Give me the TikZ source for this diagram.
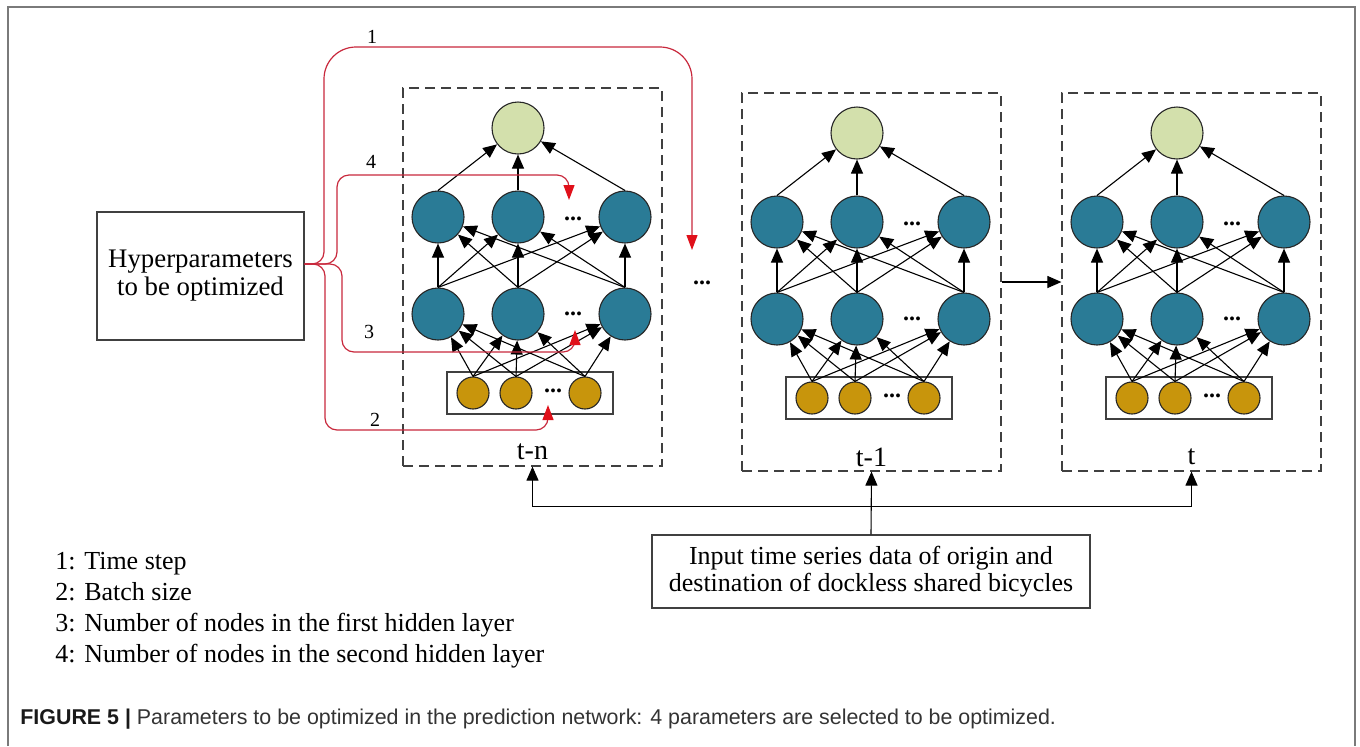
\documentclass[tikz,border=0pt]{standalone}
\usepackage{fontspec}
\setmainfont{Liberation Serif}
\newfontfamily\capfont{Liberation Sans}
\usetikzlibrary{arrows.meta,positioning,calc}
\definecolor{neuronblue}{HTML}{2A7B96}
\definecolor{outgreen}{HTML}{D3E0AC}
\definecolor{ingold}{HTML}{C8950C}
\definecolor{paramred}{HTML}{C8283C}
\definecolor{tipred}{HTML}{E0101A}
\definecolor{framegray}{HTML}{7A7A7A}

\tikzset{
  neuron/.style={circle,draw=black!85,fill=neuronblue,minimum size=26pt,inner sep=0pt,line width=0.55pt},
  outneuron/.style={neuron,fill=outgreen},
  inneuron/.style={neuron,fill=ingold,minimum size=16pt},
  stepframe/.style={draw=black!75,dash pattern=on 5pt off 3pt,minimum width=129.5pt,minimum height=189pt,inner sep=0pt,line width=0.6pt},
  plainbox/.style={draw=black!75,line width=0.6pt,align=center,inner sep=0pt},
  arr/.style={-{Triangle[length=7pt,width=6pt]},line width=0.55pt,black},
  redarr/.style={-{Triangle[length=7.5pt,width=5.5pt,color=tipred]},draw=paramred,line width=0.6pt},
  dotsl/.style={font=\fontsize{12}{12}\selectfont\bfseries,inner sep=1pt},
  numlabel/.style={font=\fontsize{10}{12}\selectfont,inner sep=0pt},
}

\begin{document}
\begin{tikzpicture}[x=0.5pt,y=-0.5pt]
\useasboundingbox (0,0) rectangle (1360,746);
% figure frame, open at the bottom
\draw[framegray,line width=1pt] (8,746) -- (8,7) -- (1355,7) -- (1355,746);

% the three time steps
\foreach \bx/\by/\nm/\lab in {403/88/a/t-n, 742/93/b/t-1, 1062/93/c/t}{
  \node[stepframe] (box-\nm) at (\bx+129.5,\by+189) {};
  \node[font=\fontsize{14}{14}\selectfont] (lab-\nm) at (\bx+129.5,\by+364) {\lab};
  \node[outneuron] (out-\nm) at (\bx+115,\by+40) {};
  \foreach \i/\dx in {1/35,2/115,3/222}{
    \node[neuron] (hb-\nm\i) at (\bx+\dx,\by+129) {};
    \node[neuron] (ha-\nm\i) at (\bx+\dx,\by+226) {};
  }
  \node[plainbox,minimum width=83pt,minimum height=21pt] (inbox-\nm) at (\bx+127,\by+305) {};
  \foreach \i/\dx in {1/70,2/113,3/182}
    \node[inneuron] (in-\nm\i) at (\bx+\dx,\by+305) {};
  \node[dotsl] (dhb-\nm) at (\bx+170,\by+131) {...};
  \node[dotsl] (dha-\nm) at (\bx+170,\by+226) {...};
  \node[dotsl] (din-\nm) at (\bx+150,\by+303) {...};
  % connections
  \foreach \i in {1,2,3}{
    \draw[arr] (hb-\nm\i.north) -- (out-\nm);
    \foreach \j in {1,2,3}{
      \draw[arr] (ha-\nm\i.north) -- (hb-\nm\j);
      \draw[arr] (in-\nm\i.north) -- (ha-\nm\j);
    }
  }
}
\node[dotsl] (dmid) at (702,283) {...};

% input data
\node[plainbox,minimum width=219pt,minimum height=36.5pt,font=\fontsize{13}{13.5}\selectfont] (inp) at (871,571.5)
  {Input time series data of origin and\\destination of dockless shared bicycles};
\coordinate (split) at ($(inp.north)+(0,-28)$);
\draw[arr] (inp.north) -- (box-b.south);
\draw[arr] (split) -| (box-a.south);
\draw[arr] (split) -| (box-c.south);
\draw[arr] (box-b.east) -- (box-c.west);

% hyperparameters
\node[plainbox,minimum width=103.5pt,minimum height=64pt,font=\fontsize{13.4}{14}\selectfont] (hyp) at (200.5,276)
  {Hyperparameters\\to be optimized};
\coordinate (hub) at ($(hyp.east)+(0,-12)$);
\draw[redarr] (hub) [rounded corners=6pt] -| (324,150) [rounded corners=16pt] -- (324,47) -| ([shift={(-10,-33)}]dmid.center);
\draw[redarr,rounded corners=6pt] (hub) -| (337,175) -| ([shift={(-4,-19)}]dhb-a.center);
\draw[redarr,rounded corners=6pt] (hub) -| (342,352) -| ([shift={(2,16)}]dha-a.center);
\draw[redarr,rounded corners=6pt] (hub) -| (325,430) -| ([shift={(-5,14)}]din-a.center);
\node[numlabel] (num1) at (372,37) {1};
\node[numlabel] (num4) at (371,162) {4};
\node[numlabel] (num3) at (369,332) {3};
\node[numlabel] (num2) at (375,420) {2};

% legend
\node[anchor=west,align=left,inner sep=0pt,font=\fontsize{13}{15.5}\selectfont] (legend) at (55,610)
  {1: Time step\\2: Batch size\\3: Number of nodes in the first hidden layer\\4: Number of nodes in the second hidden layer};

% caption
\node[anchor=west,inner sep=0pt,text=black!80,font=\capfont\fontsize{10.7}{12}\selectfont] (caption) at (20,719)
  {\textcolor{black!90}{\textbf{FIGURE 5 |}} Parameters to be optimized in the prediction network: 4 parameters are selected to be optimized.};
\end{tikzpicture}
\end{document}
